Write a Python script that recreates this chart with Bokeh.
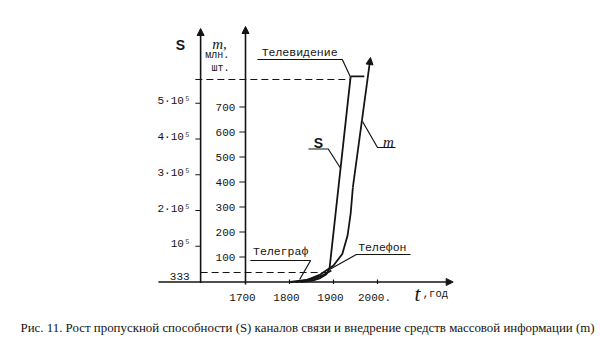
from bokeh.plotting import figure
from bokeh.models import Range1d, Arrow, NormalHead
from bokeh.core.properties import value
from bokeh.embed import file_html
from bokeh.resources import INLINE

# ---------------- data ----------------
year_ticks = [1700, 1800, 1900, 2000]
year_labels = ["1700", "1800", "1900", "2000."]
m_ticks = [100, 200, 300, 400, 500, 600, 700]
m_labels = ["100", "200", "300", "400", "500", "600", "700"]
s_ticks = [100000, 200000, 300000, 400000, 500000]
s_labels = ["10⁵", "2·10⁵", "3·10⁵", "4·10⁵", "5·10⁵"]

# S: channel capacity growth
s_years = [1825, 1852, 1870, 1884, 1891, 1939]
s_values = [0, 4000, 11000, 22000, 38000, 575000]
# m: mass media (mln units)
m_years = [1814, 1836, 1870, 1900, 1920, 1932, 1939, 1944, 1984]
m_values = [0, 6, 30, 66, 112, 186, 274, 378, 898]
# early telegraph/telephone bundle
tg_years = [1802, 1848, 1875, 1895]
tg_values = [0, 10, 26, 46]

tv_level_m = 810        # "Телевидение" level
tel_level_m = 38        # "333" level
low_label = "333"
caption = ("Рис. 11. Рост пропускной способности (S) каналов связи "
           "и внедрение средств массовой информации (m)")

# ---------------- scales ----------------
W, H = 600, 350
S_PER_M = 1e5 / 35.75 / 4.0       # S units per m unit
X0 = 1143.18
X1 = X0 + W / 0.44
Y1 = 1126.0
Y0 = Y1 - H * 4.0
S_AXIS_X = 1598
M_AXIS_X = 1700
INK = "#141414"
MONO = value("Liberation Mono")

p = figure(width=W, height=H, x_range=Range1d(X0, X1), y_range=Range1d(Y0, Y1),
           x_axis_type=None, y_axis_type=None, output_backend="svg",
           toolbar_location=None, min_border=0)
p.extra_y_ranges = {"S": Range1d(Y0 * S_PER_M, Y1 * S_PER_M)}
p.grid.visible = False
p.outline_line_color = None
p.background_fill_color = "white"
p.border_fill_color = "white"


def head():
    return NormalHead(size=7, fill_color=INK, line_color=INK, line_width=1)


# axes (drawn as arrows)
p.add_layout(Arrow(end=head(), x_start=S_AXIS_X, y_start=-4, x_end=S_AXIS_X, y_end=1014,
                   line_width=1.6, line_color=INK))
p.add_layout(Arrow(end=head(), x_start=M_AXIS_X, y_start=-10, x_end=M_AXIS_X, y_end=1022,
                   line_width=1.6, line_color=INK))
p.add_layout(Arrow(end=head(), x_start=1502, y_start=0, x_end=2172, y_end=0,
                   line_width=1.6, line_color=INK))

# x ticks and labels
p.segment(x0=year_ticks[1:], y0=[-8] * 3, x1=year_ticks[1:], y1=[10] * 3,
          line_color=INK, line_width=1.2)
p.text(x=year_ticks, y=[-62] * 4, text=year_labels, text_font=MONO, text_font_size="11px",
       text_align="center", text_baseline="middle", text_color=INK, x_offset=-3)
p.text(x=[2091], y=[-46], text=["t"], text_font=value("Liberation Serif"),
       text_font_style="italic", text_font_size="21px", text_align="center",
       text_baseline="middle", text_color=INK)
p.text(x=[2103], y=[-46], text=[",год"], text_font=MONO, text_font_size="10.5px",
       text_align="left", text_baseline="middle", text_color=INK)

# m ticks and labels
p.segment(x0=[1686] * 7, y0=m_ticks, x1=[M_AXIS_X] * 7, y1=m_ticks, line_color=INK, line_width=1.2)
p.text(x=[1677] * 7, y=m_ticks, text=m_labels, text_font=MONO, text_font_size="11px",
       text_align="right", text_baseline="middle", text_color=INK)

# S ticks and labels
p.segment(x0=[1586] * 5, y0=s_ticks, x1=[S_AXIS_X] * 5, y1=s_ticks, line_color=INK,
          line_width=1.2, y_range_name="S")
p.text(x=[1575] * 5, y=s_ticks, text=s_labels, text_font=MONO, text_font_size="11px",
       text_align="right", text_baseline="middle", text_color=INK, y_offset=-2,
       y_range_name="S")
p.text(x=[1573], y=[22], text=[low_label], text_font=MONO, text_font_size="11px",
       text_align="right", text_baseline="middle", text_color=INK)

# axis titles
p.text(x=[1552], y=[950], text=["S"], text_font=value("Liberation Sans"), text_font_style="bold",
       text_font_size="14px", text_align="center", text_baseline="middle", text_color=INK)
p.text(x=[1641], y=[954], text=["m,"], text_font=value("Liberation Serif"),
       text_font_style="italic", text_font_size="15px", text_align="center",
       text_baseline="middle", text_color=INK)
p.text(x=[1636, 1643], y=[906, 854], text=["млн.", "шт."], text_font=MONO,
       text_font_size="10px", text_align="center", text_baseline="middle", text_color=INK)

# dashed reference levels
p.segment(x0=[1586, S_AXIS_X], y0=[tv_level_m, tel_level_m], x1=[1938, 1895],
          y1=[tv_level_m, tel_level_m], line_color=INK, line_width=1.2, line_dash="7 4")

# curves
p.line(tg_years, tg_values, line_color=INK, line_width=2)
p.line(s_years, s_values, line_color=INK, line_width=1.8, y_range_name="S")
p.line(m_years[:-1], m_values[:-1], line_color=INK, line_width=1.8)
p.add_layout(Arrow(end=head(), x_start=m_years[-2], y_start=m_values[-2],
                   x_end=m_years[-1], y_end=m_values[-1], line_width=1.8, line_color=INK))
# television bar at top of S
p.segment(x0=[s_years[-1]], y0=[s_values[-1] / S_PER_M], x1=[1970], y1=[s_values[-1] / S_PER_M],
          line_color=INK, line_width=1.8)

# callouts
p.text(x=[1823], y=[918], text=["Телевидение"], text_font=MONO, text_font_size="11.5px",
       text_align="center", text_baseline="middle", text_color=INK)
p.line([1727, 1920, 1938], [890, 890, 822], line_color=INK, line_width=1.2)

p.text(x=[1866], y=[556], text=["S"], text_font=value("Liberation Sans"), text_font_style="bold",
       text_font_size="14px", text_align="center", text_baseline="middle", text_color=INK)
p.line([1843, 1888, 1915], [532, 532, 458], line_color=INK, line_width=1.2)

p.text(x=[2025], y=[562], text=["m"], text_font=value("Liberation Serif"),
       text_font_style="italic", text_font_size="15px", text_align="center",
       text_baseline="middle", text_color=INK)
p.line([1966, 2000, 2041], [642, 538, 538], line_color=INK, line_width=1.2)

p.text(x=[1780], y=[122], text=["Телеграф"], text_font=MONO, text_font_size="11.5px",
       text_align="center", text_baseline="middle", text_color=INK)
p.line([1711, 1848, 1823], [86, 86, 10], line_color=INK, line_width=1.2)

p.text(x=[2011], y=[138], text=["Телефон"], text_font=MONO, text_font_size="11.5px",
       text_align="center", text_baseline="middle", text_color=INK)
p.line([2075, 1952, 1891], [110, 110, 50], line_color=INK, line_width=1.2)

# caption
p.text(x=[1841], y=[-182], text=[caption], text_font=value("Liberation Serif"),
       text_font_size="12.9px", text_align="center", text_baseline="middle", text_color=INK)

open("out.html", "w").write(file_html(p, INLINE))
